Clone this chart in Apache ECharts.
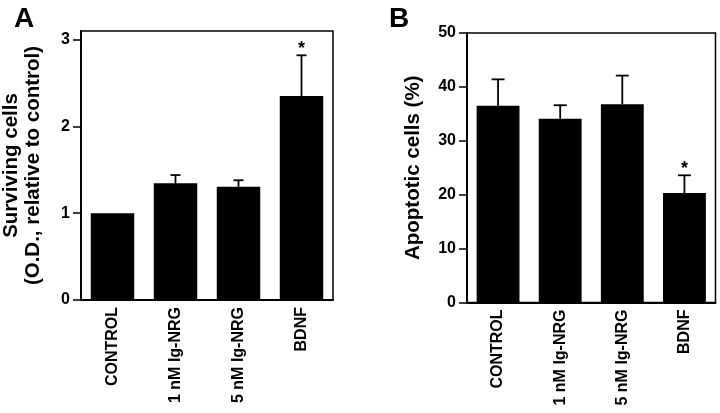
<!DOCTYPE html>
<html>
<head>
<meta charset="utf-8">
<script src="https://cdn.jsdelivr.net/npm/echarts@6/dist/echarts.min.js"></script>
<style>html,body{margin:0;padding:0;background:#fff}#c{width:720px;height:413px}</style>
</head>
<body>
<div id="c"></div>
<script>
// ---- data ----
const categories = ['CONTROL', '1 nM Ig-NRG', '5 nM Ig-NRG', 'BDNF'];
const survivingMean = [1.0, 1.345, 1.305, 2.35];
const survivingErr = [0, 0.095, 0.075, 0.47];
const survivingSig = [0, 0, 0, 1];
const survivingTicks = [0, 1, 2, 3];
const apoptoticMean = [36.5, 34.1, 36.8, 20.3];
const apoptoticErr = [4.9, 2.5, 5.3, 3.3];
const apoptoticSig = [0, 0, 0, 1];

const FONT = '"Liberation Sans", Arial, Helvetica, sans-serif';

function errRender(capW) {
  return function (params, api) {
    const i = api.value(0), m = api.value(1), e = api.value(2), s = api.value(3);
    const p0 = api.coord([i, m]);
    const p1 = api.coord([i, m + e]);
    const children = [];
    if (e > 0) {
      children.push({type: 'line', shape: {x1: p0[0], y1: p0[1], x2: p1[0], y2: p1[1]}, style: {stroke: '#000', lineWidth: 1.8}});
      children.push({type: 'line', shape: {x1: p1[0] - capW / 2, y1: p1[1], x2: p1[0] + capW / 2, y2: p1[1]}, style: {stroke: '#000', lineWidth: 1.8}});
    }
    if (s) {
      children.push({type: 'text', style: {x: p1[0], y: p1[1] + 3, text: '*', textAlign: 'center', textVerticalAlign: 'bottom', font: 'bold 18px ' + FONT, fill: '#000'}});
    }
    return {type: 'group', children: children};
  };
}

const axisLineStyle = {lineStyle: {color: '#000', width: 1.8}};
const tickLabel = {color: '#000', fontSize: 16, fontWeight: 'bold', fontFamily: FONT, margin: 11};
const nameStyle = {color: '#000', fontSize: 20.5, fontWeight: 'bold', fontFamily: FONT, lineHeight: 22};

const chart = echarts.init(document.getElementById('c'), null, {renderer: 'canvas'});
chart.setOption({
  animation: false,
  backgroundColor: '#fff',
  title: [
    {text: 'A', left: 9, top: 0, textStyle: {fontSize: 28, fontWeight: 'bold', fontFamily: FONT, color: '#000'}},
    {text: 'B', left: 384, top: 0, textStyle: {fontSize: 28, fontWeight: 'bold', fontFamily: FONT, color: '#000'}}
  ],
  grid: [
    {left: 81, top: 31, right: 387, bottom: 113, outerBoundsMode: 'none', containLabel: false, show: true, borderColor: '#000', borderWidth: 1.5, backgroundColor: 'transparent'},
    {left: 467, top: 33, right: 4.5, bottom: 110.5, outerBoundsMode: 'none', containLabel: false, show: true, borderColor: '#000', borderWidth: 1.5, backgroundColor: 'transparent'}
  ],
  xAxis: [0, 1].map(g => ({
    type: 'category', gridIndex: g, data: categories,
    axisLine: axisLineStyle,
    axisTick: {alignWithLabel: true, length: 7, lineStyle: {color: '#000', width: 1.5}},
    axisLabel: {rotate: 90, color: '#000', fontSize: 16, fontWeight: 'bold', fontFamily: FONT, margin: 7, interval: 0}
  })),
  yAxis: [
    {type: 'value', gridIndex: 0, min: 0, max: 3.1,
     name: 'Surviving cells\n(O.D., relative to control)', nameLocation: 'middle', nameGap: 37, nameRotate: 90, nameTextStyle: nameStyle,
     axisLine: {show: true, ...axisLineStyle}, splitLine: {show: false},
     axisTick: {show: true, length: 8, customValues: survivingTicks, lineStyle: {color: '#000', width: 1.5}},
     axisLabel: {...tickLabel, customValues: survivingTicks}},
    {type: 'value', gridIndex: 1, min: 0, max: 50, interval: 10,
     name: 'Apoptotic cells (%)', nameLocation: 'middle', nameGap: 43, nameRotate: 90, nameTextStyle: nameStyle,
     axisLine: {show: true, ...axisLineStyle}, splitLine: {show: false},
     axisTick: {show: true, length: 8, lineStyle: {color: '#000', width: 1.5}},
     axisLabel: {...tickLabel}}
  ],
  series: [
    {type: 'bar', xAxisIndex: 0, yAxisIndex: 0, data: survivingMean, barCategoryGap: '31%', itemStyle: {color: '#000'}},
    {type: 'custom', xAxisIndex: 0, yAxisIndex: 0, renderItem: errRender(10), z: 5,
     data: categories.map((c, i) => [i, survivingMean[i], survivingErr[i], survivingSig[i]]),
     encode: {x: 0, y: 1}},
    {type: 'bar', xAxisIndex: 1, yAxisIndex: 1, data: apoptoticMean, barCategoryGap: '31%', itemStyle: {color: '#000'}},
    {type: 'custom', xAxisIndex: 1, yAxisIndex: 1, renderItem: errRender(13), z: 5,
     data: categories.map((c, i) => [i, apoptoticMean[i], apoptoticErr[i], apoptoticSig[i]]),
     encode: {x: 0, y: 1}}
  ]
});
</script>
</body>
</html>
